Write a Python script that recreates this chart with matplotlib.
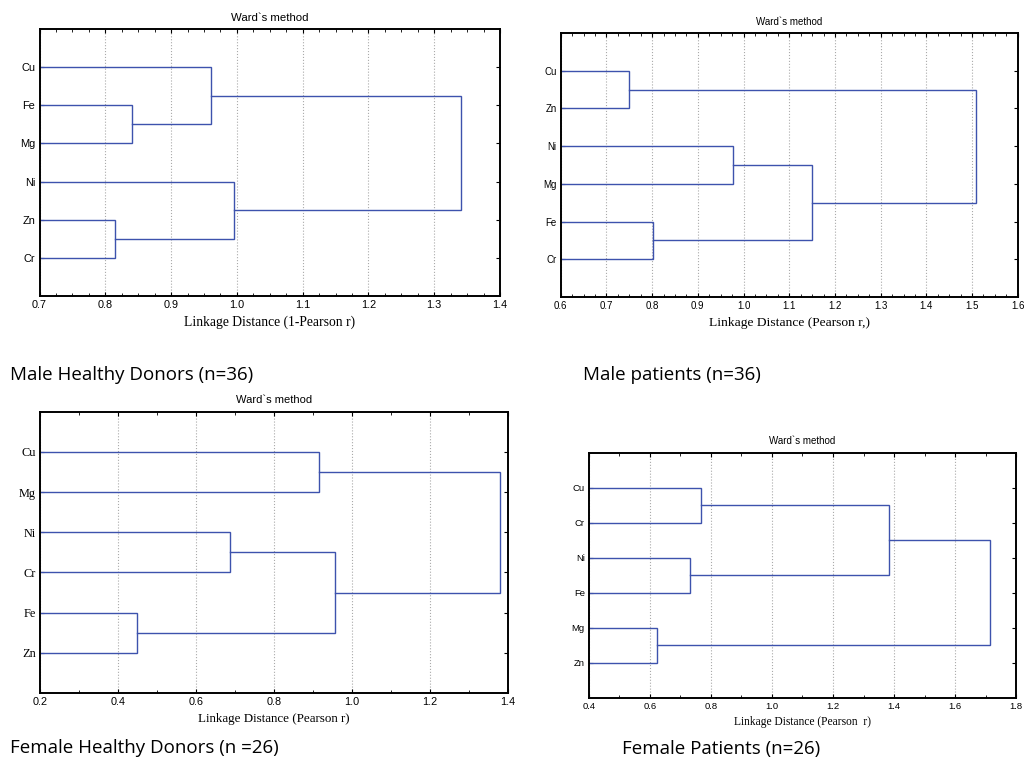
import matplotlib
matplotlib.use('Agg')
import matplotlib.pyplot as plt
from matplotlib.ticker import MultipleLocator, FormatStrFormatter

# leaf order (top to bottom) and merges: (child a, child b, linkage distance)
# leaves are 0..5, each merge creates node 6, 7, ...
labels_mhd = ['Cu', 'Fe', 'Mg', 'Ni', 'Zn', 'Cr']
merges_mhd = [(1, 2, 0.84), (4, 5, 0.815), (0, 6, 0.96), (3, 7, 0.995), (8, 9, 1.34)]

labels_mp = ['Cu', 'Zn', 'Ni', 'Mg', 'Fe', 'Cr']
merges_mp = [(0, 1, 0.75), (4, 5, 0.802), (2, 3, 0.978), (8, 7, 1.15), (6, 9, 1.508)]

labels_fhd = ['Cu', 'Mg', 'Ni', 'Cr', 'Fe', 'Zn']
merges_fhd = [(4, 5, 0.448), (2, 3, 0.688), (0, 1, 0.915), (7, 6, 0.956), (8, 9, 1.38)]

labels_fp = ['Cu', 'Cr', 'Ni', 'Fe', 'Mg', 'Zn']
merges_fp = [(4, 5, 0.622), (2, 3, 0.732), (0, 1, 0.768), (8, 7, 1.385), (9, 6, 1.715)]

LINE = '#3d52ad'


def dendro(ax, labels, merges, xlim, major, minor, xlabel,
           fs_tick=7, fs_ytick=7, fs_title=7, fs_xlabel=8, ytick_serif=False):
    n = len(labels)
    xs = {i: xlim[0] for i in range(n)}
    ys = {i: float(i + 1) for i in range(n)}
    for k, (a, b, h) in enumerate(merges):
        ax.plot([xs[a], h, h, xs[b]], [ys[a], ys[a], ys[b], ys[b]],
                color=LINE, lw=1.0, solid_joinstyle='miter')
        xs[n + k] = h
        ys[n + k] = (ys[a] + ys[b]) / 2.0

    ax.set_xlim(*xlim)
    ax.set_ylim(n + 1, 0)
    ax.xaxis.set_major_locator(MultipleLocator(major))
    ax.xaxis.set_minor_locator(MultipleLocator(minor))
    ax.xaxis.set_major_formatter(FormatStrFormatter('%.1f'))
    ax.set_yticks(range(1, n + 1))
    yfam = 'Liberation Serif' if ytick_serif else 'Liberation Sans'
    ax.set_yticklabels(labels, family=yfam, fontsize=fs_ytick)
    for t in ax.get_xticklabels():
        t.set_family('Liberation Sans')
        t.set_fontsize(fs_tick)
    ax.tick_params(which='both', direction='in', top=True, right=True, pad=3)
    ax.tick_params(which='major', length=3, width=0.8)
    ax.tick_params(which='minor', length=2, width=0.6)
    ax.grid(axis='x', which='major', color='#aaaaaa', ls=':', lw=0.8)
    for s in ax.spines.values():
        s.set_linewidth(1.4)
    ax.set_title('Ward`s method', family='Liberation Sans', fontsize=fs_title, pad=6)
    ax.set_xlabel(xlabel, family='Liberation Serif', fontsize=fs_xlabel, labelpad=4)


fig = plt.figure(figsize=(10.27, 7.60), dpi=100)

ax1 = fig.add_axes([0.0385, 0.6105, 0.4484, 0.3513])
dendro(ax1, labels_mhd, merges_mhd, (0.7, 1.4), 0.1, 0.025,
       'Linkage Distance (1-Pearson r)',
       fs_tick=7.8, fs_ytick=7.9, fs_title=8.2, fs_xlabel=9.8)

ax2 = fig.add_axes([0.546, 0.6092, 0.445, 0.3474])
dendro(ax2, labels_mp, merges_mp, (0.6, 1.6), 0.1, 0.025,
       'Linkage Distance (Pearson r,)',
       fs_tick=7, fs_ytick=7, fs_title=7, fs_xlabel=9.7)

ax3 = fig.add_axes([0.0389, 0.0882, 0.4557, 0.3701])
dendro(ax3, labels_fhd, merges_fhd, (0.2, 1.4), 0.2, 0.1,
       'Linkage Distance (Pearson r)',
       fs_tick=7.8, fs_ytick=8.8, fs_title=8, fs_xlabel=9.4, ytick_serif=True)

ax4 = fig.add_axes([0.5735, 0.082, 0.4158, 0.3224])
dendro(ax4, labels_fp, merges_fp, (0.4, 1.8), 0.2, 0.1,
       'Linkage Distance (Pearson  r)',
       fs_tick=6.8, fs_ytick=6.8, fs_title=7, fs_xlabel=8.3)

cap = dict(family='Open Sans', fontsize=13.5, va='center', ha='left')
fig.text(10 / 1027, 1 - 375 / 760, 'Male Healthy Donors (n=36)', **cap)
fig.text(583 / 1027, 1 - 375 / 760, 'Male patients (n=36)', **cap)
fig.text(10 / 1027, 1 - 748 / 760, 'Female Healthy Donors (n =26)', **cap)
fig.text(622 / 1027, 1 - 749 / 760, 'Female Patients (n=26)', **cap)

fig.savefig('out.png', dpi=100)
